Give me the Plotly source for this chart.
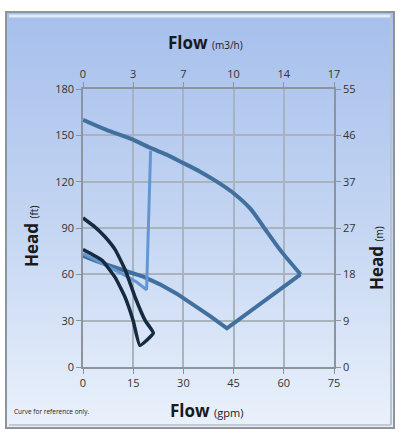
import plotly.graph_objects as go
import base64

# ---------------- data ----------------
# Large operating-range outline (gpm, ft): upper pump curve, then the closing edges
upper_flow = [0, 7, 14, 20, 25, 30, 35, 40, 45, 50, 54, 59, 65]
upper_head = [160, 153.5, 148, 142, 137.5, 132, 126.5, 120, 112.5, 102.5, 90.5, 75.5, 60]
lower_flow = [65, 43, 38, 33, 28, 23, 18, 13, 8, 4, 0]
lower_head = [60, 25, 33, 40.5, 47.5, 53.5, 58.5, 62, 65.5, 68.5, 72]

# Light blue curve
light_flow = [0, 6, 12, 16, 19, 20.2]
light_head = [73.5, 67, 60, 55, 50, 140]

# Navy loop
navy_flow = [0, 3.6, 6.5, 9.6, 12.6, 15.6, 18.6, 21, 17, 15, 12.6, 9.6, 5.7, 0]
navy_head = [96.5, 90.6, 84.5, 76, 63, 45, 30, 22, 14, 30, 45, 58, 69, 76]

# Axis ticks
gpm_ticks = [0, 15, 30, 45, 60, 75]
m3h_labels = ["0", "3", "7", "10", "14", "17"]
ft_ticks = [0, 30, 60, 90, 120, 150, 180]
m_labels = ["0", "9", "18", "27", "37", "46", "55"]

# ---------------- layout geometry ----------------
W, H = 401, 433
L, R, T, B = 83, 334, 89, 367  # plot area in px


def px(x):
    return (x - L) / (R - L)


def py(y):
    return (B - y) / (B - T)


steel = "#41709f"
fig = go.Figure()
fig.add_trace(go.Scatter(x=upper_flow, y=upper_head, mode="lines",
                         line=dict(color=steel, width=4, shape="spline", smoothing=0.8),
                         hoverinfo="skip"))
fig.add_trace(go.Scatter(x=lower_flow, y=lower_head, mode="lines",
                         line=dict(color=steel, width=4), hoverinfo="skip"))
fig.add_trace(go.Scatter(x=light_flow, y=light_head, mode="lines",
                         line=dict(color="#6496d2", width=3), hoverinfo="skip"))
fig.add_trace(go.Scatter(x=navy_flow, y=navy_head, mode="lines",
                         line=dict(color="#162a40", width=3.5, shape="spline", smoothing=0.4),
                         hoverinfo="skip"))

# dummy trace to activate secondary axes
fig.add_trace(go.Scatter(x=[None], y=[None], xaxis="x2", yaxis="y2", showlegend=False))

tickfont = dict(family="Open Sans", size=11, color="#333333")
gridc = "#a9b3bd"
axc = "#8c959e"

fig.update_layout(
    width=W, height=H,
    margin=dict(l=L, r=W - R, t=T, b=H - B),
    paper_bgcolor="white", plot_bgcolor="white",
    showlegend=False,
    xaxis=dict(range=[0, 75], tickvals=gpm_ticks, showgrid=True, gridcolor=gridc, gridwidth=1.5,
               showline=True, linecolor=axc, linewidth=1.5, ticks="outside", ticklen=5,
               tickcolor=axc, tickfont=tickfont, zeroline=False, fixedrange=True),
    yaxis=dict(range=[0, 180], tickvals=ft_ticks, showgrid=True, gridcolor=gridc, gridwidth=1.5,
               showline=True, linecolor=axc, linewidth=1.5, ticks="outside", ticklen=5,
               tickcolor=axc, tickfont=tickfont, zeroline=False, fixedrange=True),
    xaxis2=dict(range=[0, 75], overlaying="x", side="top", tickvals=gpm_ticks, ticktext=m3h_labels,
                showgrid=False, showline=True, linecolor=axc, linewidth=1.5, ticks="outside",
                ticklen=5, tickcolor=axc, tickfont=tickfont, zeroline=False, fixedrange=True),
    yaxis2=dict(range=[0, 180], overlaying="y", side="right", tickvals=ft_ticks, ticktext=m_labels,
                showgrid=False, showline=True, linecolor=axc, linewidth=1.5, ticks="outside",
                ticklen=5, tickcolor=axc, tickfont=tickfont, zeroline=False, fixedrange=True),
)

# gradient panel background
svg = ('<svg xmlns="http://www.w3.org/2000/svg" width="100" height="100" preserveAspectRatio="none">'
       '<defs><linearGradient id="g" x1="0" y1="0" x2="0" y2="1">'
       '<stop offset="0" stop-color="#a6bfec"/><stop offset="0.5" stop-color="#c3d5f2"/>'
       '<stop offset="1" stop-color="#eaf1fb"/></linearGradient></defs>'
       '<rect width="100" height="100" fill="url(#g)"/></svg>')
src = "data:image/svg+xml;base64," + base64.b64encode(svg.encode()).decode()
pl, pr, pt, pb = 6, 394, 12, 428
fig.add_layout_image(dict(source=src, xref="paper", yref="paper", x=px(pl), y=py(pt),
                          sizex=px(pr) - px(pl), sizey=py(pt) - py(pb), sizing="stretch",
                          xanchor="left", yanchor="top", layer="below"))
# panel frame
fig.add_shape(type="rect", xref="paper", yref="paper", x0=px(pl), x1=px(pr), y0=py(pb), y1=py(pt),
              line=dict(color="#8e949b", width=2), layer="below")
fig.add_shape(type="line", xref="paper", yref="paper", x0=px(pl + 3), x1=px(pr - 3),
              y0=py(pt + 4), y1=py(pt + 4), line=dict(color="#dfeafb", width=3), layer="below")
fig.add_shape(type="line", xref="paper", yref="paper", x0=px(pr - 3), x1=px(pr - 3),
              y0=py(pb - 3), y1=py(pt + 3), line=dict(color="#b9c2cd", width=2), layer="below")
fig.add_shape(type="line", xref="paper", yref="paper", x0=px(pl + 3), x1=px(pr - 3),
              y0=py(pb - 3), y1=py(pb - 3), line=dict(color="#c2cad4", width=2), layer="below")

titlefont = dict(family="Open Sans", size=17, color="#1a1a1a")
common = dict(xref="paper", yref="paper", showarrow=False, xanchor="center", yanchor="middle")
fig.add_annotation(x=px(205), y=py(43), text="<b>Flow</b> <span style='font-size:10px'>(m3/h)</span>",
                   font=titlefont, **common)
fig.add_annotation(x=px(206), y=py(410), text="<b>Flow</b> <span style='font-size:11px'>(gpm)</span>",
                   font=titlefont, **common)
fig.add_annotation(x=px(31), y=py(237), textangle=-90,
                   text="<b>Head</b> <span style='font-size:10px'>(ft)</span>", font=titlefont, **common)
fig.add_annotation(x=px(376), y=py(258), textangle=-90,
                   text="<b>Head</b> <span style='font-size:10px'>(m)</span>", font=titlefont, **common)
fig.add_annotation(xref="paper", yref="paper", x=px(12), y=py(412), showarrow=False,
                   xanchor="left", yanchor="middle",
                   text="Curve for reference only.", font=dict(family="Open Sans", size=6.5, color="#222"))

fig.write_html("out.html", post_script="document.body.style.margin='0';",
               config={"displayModeBar": False})
